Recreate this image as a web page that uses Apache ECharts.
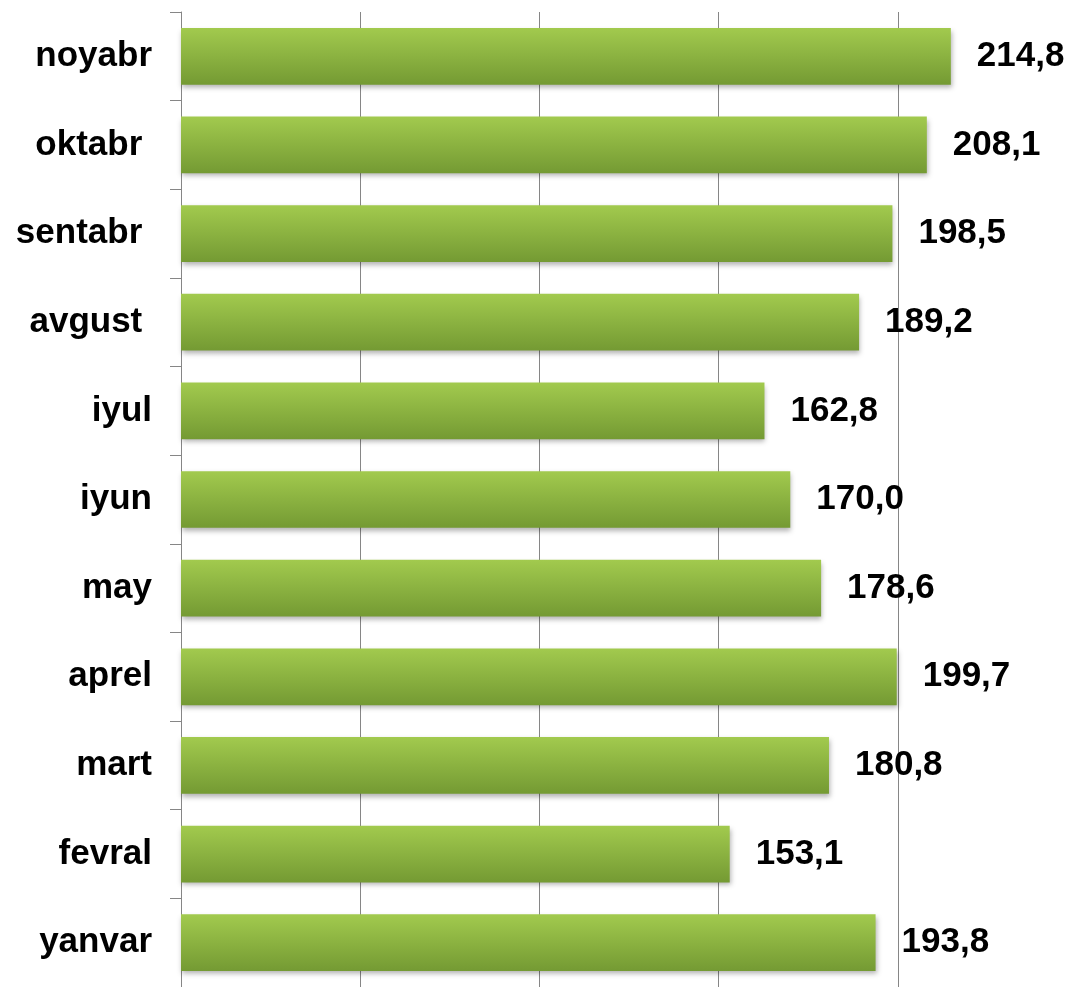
<!DOCTYPE html>
<html>
<head>
<meta charset="utf-8">
<script src="https://cdn.jsdelivr.net/npm/echarts@6/dist/echarts.min.js"></script>
<style>
html,body{margin:0;padding:0;background:#fff;}
#chart{width:1077px;height:987px;}
</style>
</head>
<body>
<div id="chart"></div>
<script>
var categories = ['yanvar', 'fevral', 'mart', 'aprel', 'may', 'iyun', 'iyul', 'avgust ', 'sentabr ', 'oktabr ', 'noyabr'];
var values = [193.8, 153.1, 180.8, 199.7, 178.6, 170.0, 162.8, 189.2, 198.5, 208.1, 214.8];

var chart = echarts.init(document.getElementById('chart'));
chart.setOption({
  animation: false,
  backgroundColor: '#ffffff',
  grid: { left: 181, right: -3, top: 12, bottom: -5, containLabel: false },
  xAxis: {
    type: 'value',
    min: 0,
    max: 250,
    interval: 50,
    axisLine: { show: false },
    axisTick: { show: false },
    axisLabel: { show: false },
    splitLine: { show: true, lineStyle: { color: '#868686', width: 1 } }
  },
  yAxis: {
    type: 'category',
    data: categories,
    axisLine: { show: true, lineStyle: { color: '#868686', width: 1 } },
    axisTick: { show: true, length: 11, lineStyle: { color: '#868686' } },
    axisLabel: {
      margin: 29,
      color: '#000',
      fontFamily: 'Liberation Sans, Arial, sans-serif',
      fontWeight: 'bold',
      fontSize: 35
    }
  },
  series: [{
    type: 'bar',
    data: values,
    barWidth: '64%',
    itemStyle: {
      color: new echarts.graphic.LinearGradient(0, 0, 0, 1, [
        { offset: 0, color: '#a2ca4e' },
        { offset: 1, color: '#749a33' }
      ]),
      shadowColor: 'rgba(0,0,0,0.3)',
      shadowBlur: 5,
      shadowOffsetY: 3,
      shadowOffsetX: 1
    },
    label: {
      show: true,
      position: 'right',
      distance: 26,
      color: '#000',
      fontFamily: 'Liberation Sans, Arial, sans-serif',
      fontWeight: 'bold',
      fontSize: 35,
      formatter: function (p) { return p.value.toFixed(1).replace('.', ','); }
    }
  }]
});
</script>
</body>
</html>
